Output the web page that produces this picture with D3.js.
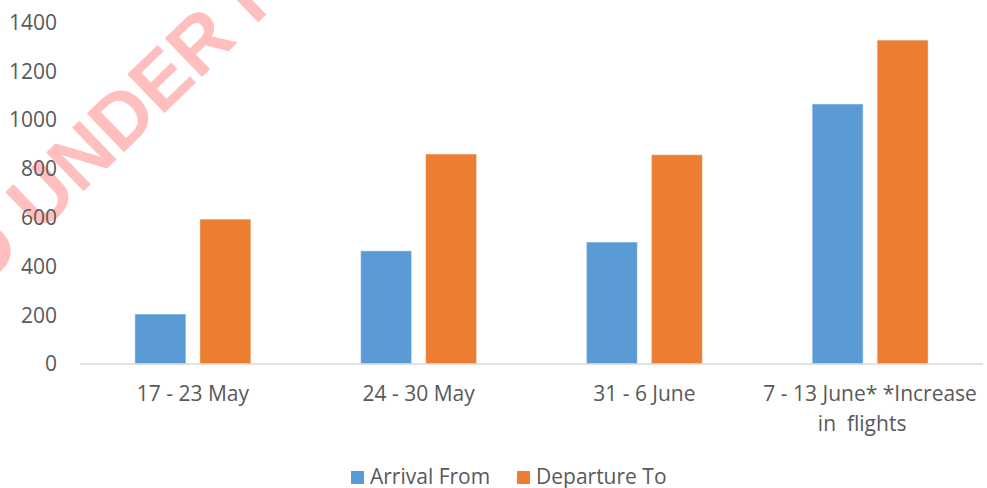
<!DOCTYPE html>
<html>
<head>
<meta charset="utf-8">
<script src="https://cdn.jsdelivr.net/npm/d3@7"></script>
<style>
  body { margin: 0; background: #fff; }
  text { font-family: "Open Sans", sans-serif; fill: #595959; }
  .wm { font-family: "Liberation Sans", sans-serif; font-weight: bold; font-size: 78px; fill: #ffbfbf; white-space: pre; }
</style>
</head>
<body>
<svg id="chart" width="987" height="488"></svg>
<script>
// data
var categories = ["17 - 23 May", "24 - 30 May", "31 - 6 June", "7 - 13 June* *Increase\nin  flights"];
var seriesNames = ["Arrival From", "Departure To"];
var arrivals = [205, 464, 500, 1066];
var departures = [594, 861, 858, 1328];
var yTicks = [0, 200, 400, 600, 800, 1000, 1200, 1400];
var colors = ["#5b9bd5", "#ed7d31"];

var svg = d3.select("#chart");

// watermark
var wm = svg.append("g").attr("transform", "translate(120,118) rotate(-44)");
var mid = wm.append("text").attr("class", "wm").text("UNDER")
  .attr("text-anchor", "middle").attr("dy", "0.35em");
var w = mid.node().getComputedTextLength();
var gap = 22;
wm.append("text").attr("class", "wm").text("SUBMITTED")
  .attr("x", -w / 2 - gap).attr("text-anchor", "end").attr("dy", "0.35em");
wm.append("text").attr("class", "wm").text("REVIEW")
  .attr("x", w / 2 + gap).attr("text-anchor", "start").attr("dy", "0.35em");

var x = d3.scaleBand().domain(categories).range([80, 983]);
var x1 = d3.scaleBand().domain(seriesNames).range([-58, 58]).paddingInner(0.215);
var y = d3.scaleLinear().domain([0, 1400]).range([364, 22.5]);

// y labels
svg.append("g").selectAll("text").data(yTicks).enter().append("text")
  .attr("x", 57).attr("y", function (d) { return y(d); })
  .attr("dy", "0.35em").attr("text-anchor", "end")
  .style("font-size", "21px")
  .text(function (d) { return d; });

// bars
var values = [arrivals, departures];
seriesNames.forEach(function (s, si) {
  svg.append("g").selectAll("rect").data(categories).enter().append("rect")
    .attr("x", function (d) { return x(d) + x.bandwidth() / 2 + x1(s); })
    .attr("y", function (d, i) { return y(values[si][i]); })
    .attr("width", x1.bandwidth())
    .attr("height", function (d, i) { return y(0) - y(values[si][i]); })
    .style("fill", colors[si])
    .style("stroke", "#ffffff").style("stroke-opacity", 0.5).style("stroke-width", 1);
});

// baseline
svg.append("line")
  .attr("x1", 80).attr("x2", 983).attr("y1", y(0)).attr("y2", y(0))
  .style("stroke", "#d9d9d9").style("stroke-width", 1.5);

// x labels
var xl = svg.append("g").selectAll("text").data(categories).enter().append("text")
  .attr("text-anchor", "middle")
  .attr("transform", function (d) { return "translate(" + (x(d) + x.bandwidth() / 2) + ",394)"; })
  .style("font-size", "21px");
xl.each(function (d) {
  var lines = d.split("\n");
  var t = d3.select(this);
  lines.forEach(function (ln, i) {
    t.append("tspan").attr("x", i ? -8 : 0).attr("dy", i ? "1.4em" : "0.35em")
      .style("white-space", "pre").text(ln);
  });
});

// legend
var leg = svg.append("g");
var legX = [351, 517];
seriesNames.forEach(function (s, i) {
  leg.append("rect").attr("x", legX[i]).attr("y", 471).attr("width", 13).attr("height", 13)
    .style("fill", colors[i]);
  leg.append("text").attr("x", legX[i] + 19).attr("y", 477).attr("dy", "0.35em")
    .style("font-size", "21px").text(s);
});
</script>
</body>
</html>
